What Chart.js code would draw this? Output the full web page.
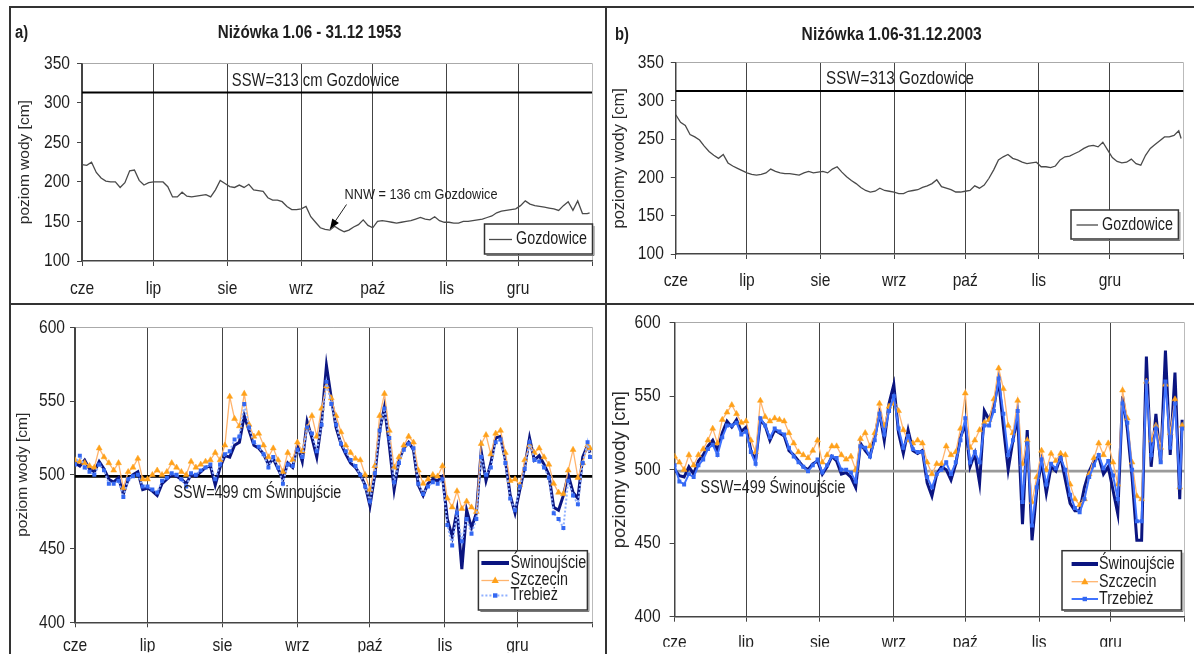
<!DOCTYPE html>
<html>
<head>
<meta charset="utf-8">
<script src="https://cdn.jsdelivr.net/npm/chart.js@4.4.1/dist/chart.umd.min.js"></script>
<style>
  html, body { margin: 0; padding: 0; background: #fff; }
  #page { position: relative; width: 1194px; height: 654px; overflow: hidden; background: #fff; }
  #page canvas { position: absolute; left: 0; top: 0; }
  .rule { position: absolute; background: #333; }
</style>
</head>
<body>
<div id="page">
  <div class="rule" style="left:9px;top:6px;width:1185px;height:2px"></div>
  <div class="rule" style="left:9px;top:6px;width:2px;height:648px"></div>
  <div class="rule" style="left:605px;top:6px;width:2px;height:648px"></div>
  <div class="rule" style="left:9px;top:303px;width:1185px;height:2px"></div>
  <canvas id="chartA" width="1194" height="654"></canvas>
  <canvas id="chartB" width="1194" height="654"></canvas>
  <canvas id="chartC" width="1194" height="654"></canvas>
  <canvas id="chartD" width="1194" height="654"></canvas>
</div>
<script>
// sample days counted from 1 June (0) to 31 December (213)
const sampleDays = [0,2,4,6,8,10,12,14,16,18,20,22,24,26,28,30,32,34,36,38,40,42,44,46,48,50,52,54,56,58,
  60,62,64,66,68,70,72,74,76,78,80,82,84,86,88,90,92,94,96,98,100,102,104,106,108,110,112,114,116,118,
  120,122,124,126,128,130,132,134,136,138,140,142,144,146,148,150,152,154,156,158,160,162,164,166,168,170,
  172,174,176,178,180,182,184,186,188,190,192,194,196,198,200,202,204,206,208,210,212,213];

const monthStarts = [0, 30, 61, 92, 122, 153, 183, 214];
const monthLabels = ['cze', 'lip', 'sie', 'wrz', 'paź', 'lis', 'gru', ''];

const sswGozdowice = 313;
const sswSwinoujscie = 499;

// water levels [cm], 1953
const gozdowice1953 = [222,221,225,212,205,201,200,200,193,199, 214,215,202,196,199,200,200,200,194,181,
  181,187,182,181,182,183,184,181,190,202, 198,194,193,196,193,197,190,189,188,180,
  177,177,175,169,165,165,166,169,156,149, 142,140,139,144,140,137,139,143,146,152,
  145,142,150,151,150,149,148,149,150,151, 153,155,153,152,156,151,149,149,148,148,
  150,150,151,152,153,155,157,161,163,164, 165,166,170,176,172,170,169,168,167,166,
  164,170,175,164,176,160,160, 161];

const swinoujscie1953 = [508,506,510,504,502,509,504,497,495,498, 487,497,500,502,490,491,489,486,494,497,
  500,499,497,494,500,499,502,505,506,493, 505,513,512,520,522,540,530,520,518,514,
  507,511,504,497,508,505,520,509,536,525, 512,536,574,552,532,521,514,508,505,500,
  493,479,500,530,546,520,490,510,518,522, 517,493,486,494,497,496,499,470,458,476,
  436,476,464,474,516,496,508,525,526,510, 486,474,490,505,525,510,513,507,500,478,
  476,486,500,488,484,512,520, 515];

const szczecin1953 = [510,509,508,506,505,518,512,508,503,508, 491,502,505,511,497,497,500,503,500,502,
  508,505,502,500,509,505,507,509,510,515, 510,520,553,538,533,555,534,526,528,520,
  512,518,510,502,515,510,522,516,532,540, 526,545,560,552,540,529,520,515,511,510,
  500,490,506,540,555,530,505,512,520,526, 522,503,494,497,500,499,506,484,478,489,
  477,482,478,475,521,527,514,528,530,515, 496,497,493,510,520,515,518,512,507,494,
  488,487,503,517,498,508,520, 518];

const trzebiez1953 = [507,513,505,502,500,507,503,494,494,496, 485,497,499,500,492,492,490,488,496,498,
  501,500,497,492,501,500,503,505,507,497, 507,514,516,524,526,548,532,522,519,514,
  505,512,505,494,507,506,517,512,532,528, 516,534,563,548,534,521,516,510,506,500,
  492,482,501,530,545,525,495,508,517,521, 518,494,487,492,495,494,497,466,452,474,
  455,470,460,470,512,500,505,522,524,508, 484,476,492,504,522,510,509,505,498,474,
  470,464,496,486,480,508,522, 512];

// water levels [cm], 2003
const gozdowice2003 = [282,272,268,256,253,249,241,234,229,225, 230,219,215,212,209,206,204,203,204,206,
  211,208,206,205,205,204,203,206,208,206, 207,208,206,211,214,207,201,196,192,187,
  183,181,182,186,183,182,181,179,179,182, 183,184,187,189,192,197,188,186,184,181,
  181,182,183,189,186,190,199,210,223,227, 230,225,223,220,218,219,220,214,214,213,
  215,223,227,228,231,234,238,241,242,240, 246,236,226,221,219,220,224,218,216,229,
  238,243,248,253,253,255,261, 251];

const swinoujscie2003 = [500,496,495,502,497,506,510,516,520,513, 525,533,529,534,526,529,513,506,534,530,
  520,527,525,523,513,510,506,502,500,504, 506,497,502,509,506,497,498,495,488,518,
  513,509,522,539,520,545,558,525,511,527, 513,511,513,491,482,497,502,500,493,504,
  522,531,502,511,491,540,534,543,561,529, 500,520,536,463,527,452,486,506,484,502,
  499,509,493,477,472,472,488,499,506,509, 497,502,486,470,550,528,495,452,452,577,
  502,538,504,581,510,566,480, 534];

const szczecin2003 = [509,505,500,510,503,510,514,520,528,518, 534,539,544,538,532,533,520,512,547,536,
  533,535,534,533,525,518,512,510,508,513, 520,505,510,516,516,510,507,509,500,521,
  525,516,525,545,530,543,545,540,527,520, 518,520,518,505,497,504,504,516,510,512,
  528,552,515,520,527,532,534,548,569,555, 530,525,547,504,520,478,495,513,500,511,
  506,511,510,490,480,476,480,497,508,518, 510,518,505,490,554,535,505,482,480,560,
  520,530,515,558,525,548,488, 530];

const trzebiez2003 = [503,492,490,497,495,503,507,514,517,510, 522,530,530,532,524,526,512,504,535,530,
  522,528,526,524,515,509,505,502,499,503, 507,498,503,509,508,500,500,498,492,516,
  515,509,520,538,524,540,550,528,515,523, 514,512,512,495,488,497,500,505,497,505,
  520,535,505,512,505,530,530,540,562,538, 510,520,540,478,518,462,488,507,490,504,
  501,508,500,483,474,471,480,495,503,510, 501,506,496,480,545,532,500,465,465,560,
  510,528,505,560,515,545,488, 528];

// "condensed-text" is not a real family: it marks text that gets squeezed horizontally
const NARROW = '"condensed-text", "Liberation Sans", Arial, sans-serif';
const REGULAR = '"Liberation Sans", Arial, sans-serif';
const SQUEEZE = 0.82;
const PAGE_W = 1194, PAGE_H = 654;

function pts(values) {
  return sampleDays.map((d, i) => ({ x: d, y: values[i] }));
}
function level(v) {
  return [{ x: 0, y: v }, { x: 214, y: v }];
}

// no narrow font is installed, so squeeze the marked text on the canvas
const narrowText = {
  id: 'narrowText',
  beforeInit(chart) {
    const ctx = chart.ctx;
    const fill = ctx.fillText;
    ctx.fillText = function (text, x, y, maxWidth) {
      if (this.font.indexOf('condensed-text') < 0) {
        return fill.call(this, text, x, y, maxWidth);
      }
      this.save();
      this.translate(x, y);
      this.scale(SQUEEZE, 1);
      fill.call(this, text, 0, 0);
      this.restore();
    };
  }
};

// draws the framed legend, the annotation texts and the NNW arrow
const decorPlugin = {
  id: 'decor',
  afterDatasetsDraw(chart, args, opts) {
    const ctx = chart.ctx;
    ctx.save();
    (opts.texts || []).forEach(t => {
      ctx.font = (t.bold ? 'bold ' : '') + t.size + 'px ' + NARROW;
      ctx.fillStyle = '#1e1e1e';
      ctx.textAlign = t.align || 'center';
      ctx.textBaseline = 'middle';
      ctx.fillText(t.text, t.x, t.y);
    });
    if (opts.arrow) {
      const a = opts.arrow;
      const ang = Math.atan2(a.y2 - a.y1, a.x2 - a.x1);
      ctx.strokeStyle = '#222';
      ctx.lineWidth = 1;
      ctx.beginPath();
      ctx.moveTo(a.x1, a.y1);
      ctx.lineTo(a.x2, a.y2);
      ctx.stroke();
      ctx.fillStyle = '#000';
      ctx.beginPath();
      ctx.moveTo(a.x2, a.y2);
      ctx.lineTo(a.x2 - 10 * Math.cos(ang) + 4 * Math.sin(ang), a.y2 - 10 * Math.sin(ang) - 4 * Math.cos(ang));
      ctx.lineTo(a.x2 - 10 * Math.cos(ang) - 4 * Math.sin(ang), a.y2 - 10 * Math.sin(ang) + 4 * Math.cos(ang));
      ctx.closePath();
      ctx.fill();
    }
    const lg = opts.legend;
    if (lg) {
      ctx.fillStyle = '#fff';
      ctx.fillRect(lg.x, lg.y, lg.w, lg.h);
      ctx.strokeStyle = '#333';
      ctx.lineWidth = 1.5;
      ctx.strokeRect(lg.x, lg.y, lg.w, lg.h);
      ctx.strokeStyle = '#777';
      ctx.lineWidth = 1;
      ctx.beginPath();
      ctx.moveTo(lg.x + lg.w + 1.5, lg.y + 2);
      ctx.lineTo(lg.x + lg.w + 1.5, lg.y + lg.h + 1.5);
      ctx.lineTo(lg.x + 2, lg.y + lg.h + 1.5);
      ctx.stroke();
      const items = chart.data.datasets.filter(d => d.label);
      items.forEach((ds, i) => {
        const y = lg.rows[i];
        const cx = (lg.lx1 + lg.lx2) / 2;
        ctx.setLineDash(ds.borderDash || []);
        ctx.strokeStyle = ds.borderColor;
        ctx.lineWidth = ds.legendWidth || ds.borderWidth;
        ctx.beginPath();
        ctx.moveTo(lg.lx1, y);
        ctx.lineTo(lg.lx2, y);
        ctx.stroke();
        ctx.setLineDash([]);
        ctx.fillStyle = ds.pointBackgroundColor;
        if (ds.pointStyle === 'triangle') {
          ctx.beginPath();
          ctx.moveTo(cx, y - 4);
          ctx.lineTo(cx + 3.6, y + 2.5);
          ctx.lineTo(cx - 3.6, y + 2.5);
          ctx.closePath();
          ctx.fill();
        } else if (ds.pointStyle === 'rect') {
          ctx.fillRect(cx - 2.2, y - 2.2, 4.4, 4.4);
        }
        ctx.font = lg.size + 'px ' + NARROW;
        ctx.fillStyle = '#1e1e1e';
        ctx.textAlign = 'left';
        ctx.textBaseline = 'middle';
        ctx.fillText(ds.label, lg.tx, y);
      });
    }
    ctx.restore();
  }
};

function buildChart(id, box, datasets, yTitle, yMin, yMax, decor) {
  return new Chart(document.getElementById(id), {
    type: 'line',
    data: { datasets: datasets },
    options: {
      responsive: false,
      animation: false,
      devicePixelRatio: 1,
      layout: {
        padding: { left: box.L - box.W, right: PAGE_W - box.R, top: box.T, bottom: PAGE_H - box.B - box.H }
      },
      elements: { line: { tension: 0 } },
      plugins: { legend: { display: false }, tooltip: { enabled: false }, decor: decor },
      scales: {
        x: {
          type: 'linear',
          min: 0,
          max: 214,
          afterFit: s => { s.height = box.H; },
          afterBuildTicks: s => { s.ticks = monthStarts.map(v => ({ value: v })); },
          ticks: {
            autoSkip: false,
            maxRotation: 0,
            padding: box.xPad,
            color: '#1e1e1e',
            font: { family: NARROW, size: 19 },
            callback: (v, i) => monthLabels[i]
          },
          grid: {
            color: c => (c.tick && c.tick.value === 214 ? '#bbbbbb' : '#444'),
            tickColor: '#444',
            tickLength: 5
          },
          border: { color: '#444', width: 1.5 }
        },
        y: {
          min: yMin,
          max: yMax,
          afterFit: s => { s.width = box.W; },
          ticks: {
            stepSize: 50,
            padding: box.yPad,
            color: '#1e1e1e',
            font: { family: NARROW, size: 19 }
          },
          grid: {
            color: c => (c.tick && c.tick.value === yMax ? '#aaaaaa' : 'rgba(0,0,0,0)'),
            tickColor: '#444',
            tickLength: 5
          },
          border: { color: '#444', width: 1.5 },
          title: {
            display: true,
            text: yTitle,
            color: '#2a2a2a',
            padding: 0,
            font: { family: REGULAR, size: box.titleSize }
          }
        }
      }
    },
    plugins: [narrowText, decorPlugin]
  });
}

function gozdowiceSet(values) {
  return [
    { label: 'Gozdowice', data: pts(values), borderColor: '#4a4a4a', borderWidth: 1.3, pointRadius: 0, order: 1 },
    { label: '', data: level(sswGozdowice), borderColor: '#000', borderWidth: 2, pointRadius: 0, order: 2 }
  ];
}

function estuarySet(sw, sz, tr, trLabel, trLine, trDash, sswColor) {
  return [
    { label: 'Świnoujście', data: pts(sw), borderColor: '#0b1580', borderWidth: 3, legendWidth: 4,
      pointRadius: 0, order: 3 },
    { label: 'Szczecin', data: pts(sz), borderColor: '#ffb46e', borderWidth: 1.3, pointStyle: 'triangle',
      pointRadius: 3.4, pointBackgroundColor: '#ffa11a', pointBorderColor: '#ffa11a', pointBorderWidth: 0.5, order: 2 },
    { label: trLabel, data: pts(tr), borderColor: trLine, borderWidth: 2, borderDash: trDash, pointStyle: 'rect',
      pointRadius: 2.8, pointBackgroundColor: '#3468f2', pointBorderColor: '#3468f2', pointBorderWidth: 0, order: 1 },
    { label: '', data: level(sswSwinoujscie), borderColor: sswColor, borderWidth: 2.7, pointRadius: 0, order: 4 }
  ];
}

// a) 1953, Gozdowice
buildChart('chartA',
  { L: 82, R: 592, T: 63.3, B: 261, W: 66.3, H: 40, xPad: 11, yPad: 7, titleSize: 15.5 },
  gozdowiceSet(gozdowice1953), 'poziom wody [cm]', 100, 350,
  {
    texts: [
      { text: 'a)', x: 15, y: 33, size: 18, bold: true, align: 'left' },
      { text: 'Niżówka 1.06 - 31.12 1953', x: 309.6, y: 33, size: 18.5, bold: true },
      { text: 'SSW=313 cm Gozdowice', x: 315.7, y: 81, size: 18 },
      { text: 'NNW = 136 cm Gozdowice', x: 421, y: 194.3, size: 15.5 }
    ],
    arrow: { x1: 346.5, y1: 204.5, x2: 330, y2: 229 },
    legend: { x: 484.5, y: 224, w: 108, h: 30, lx1: 489, lx2: 512, tx: 516, rows: [239.5], size: 17.5 }
  });

// b) 2003, Gozdowice
buildChart('chartB',
  { L: 675.8, R: 1186.4, T: 62.7, B: 254, W: 66.2, H: 40, xPad: 10.5, yPad: 7, titleSize: 16.5 },
  gozdowiceSet(gozdowice2003), 'poziomy wody [cm]', 100, 350,
  {
    texts: [
      { text: 'b)', x: 615, y: 35, size: 18, bold: true, align: 'left' },
      { text: 'Niżówka 1.06-31.12.2003', x: 891.7, y: 35, size: 19, bold: true },
      { text: 'SSW=313 Gozdowice', x: 900, y: 79.3, size: 18.5 }
    ],
    legend: { x: 1071, y: 210, w: 107.4, h: 29, lx1: 1076.5, lx2: 1098, tx: 1102, rows: [225], size: 17.5 }
  });

// 1953, Świnoujście / Szczecin / Trzebież
buildChart('chartC',
  { L: 75, R: 592.4, T: 327.3, B: 622.3, W: 61.3, H: 30, xPad: 7.5, yPad: 5, titleSize: 15.5 },
  estuarySet(swinoujscie1953, szczecin1953, trzebiez1953, 'Trebież', '#8fb0ff', [2, 2], '#000'),
  'poziom wody [cm]', 400, 600,
  {
    texts: [{ text: 'SSW=499 cm Świnoujście', x: 257.4, y: 492.7, size: 17.5 }],
    legend: { x: 478.4, y: 550.7, w: 109, h: 59.3, lx1: 481.4, lx2: 509, tx: 510.5, rows: [563, 580.5, 595.5], size: 17.5 }
  });

// 2003, Świnoujście / Szczecin / Trzebież
buildChart('chartD',
  { L: 674.6, R: 1188, T: 322.7, B: 616.7, W: 65.7, H: 30, xPad: 9.5, yPad: 9, titleSize: 18.5 },
  estuarySet(swinoujscie2003, szczecin2003, trzebiez2003, 'Trzebież', '#3f73ff', [], '#9a9a9a'),
  'poziomy wody [cm]', 400, 600,
  {
    texts: [{ text: 'SSW=499 Świnoujście', x: 773, y: 488.3, size: 17.5 }],
    legend: { x: 1062, y: 550.7, w: 119.4, h: 59.3, lx1: 1071.6, lx2: 1098, tx: 1099, rows: [564, 581.7, 599], size: 17.5 }
  });
</script>
</body>
</html>
